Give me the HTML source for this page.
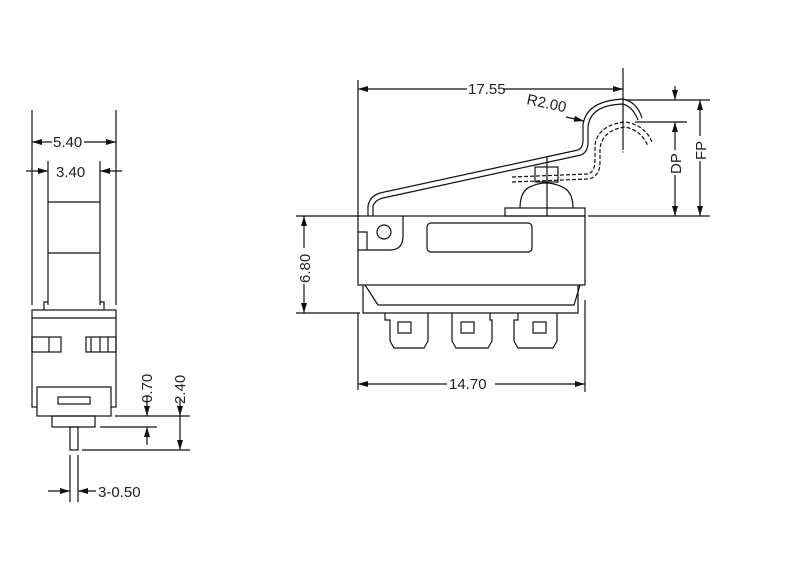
<!DOCTYPE html>
<html><head><meta charset="utf-8"><style>
html,body{margin:0;padding:0;background:#fff;}
svg{display:block;}
text{font-family:"Liberation Sans",sans-serif;font-size:15px;fill:#222;}
</style></head><body>
<svg width="800" height="575" viewBox="0 0 800 575" xmlns="http://www.w3.org/2000/svg">
<defs>
<marker id="a" viewBox="0 0 10 6" refX="10" refY="3" markerWidth="10" markerHeight="6" orient="auto-start-reverse" markerUnits="userSpaceOnUse"><path d="M0,0 L10,3 L0,6z" fill="#111"/></marker>
</defs>
<g stroke="#111" stroke-width="1.2" fill="none">
<line x1="32" y1="110" x2="32" y2="305"/>
<line x1="116" y1="110" x2="116" y2="305"/>
<line x1="48" y1="161" x2="48" y2="305"/>
<line x1="100" y1="161" x2="100" y2="305"/>
<line x1="48" y1="202" x2="100" y2="202"/>
<line x1="48" y1="253" x2="100" y2="253"/>
<path d="M48,302 H44 V310 M100,302 H104 V310"/>
<rect x="32" y="310" width="84" height="97"/>
<line x1="32" y1="318" x2="116" y2="318"/>
<rect x="32" y="337" width="29" height="15"/>
<line x1="49" y1="337" x2="49" y2="352"/>
<rect x="86" y="337" width="30" height="15"/>
<line x1="91" y1="337" x2="91" y2="352"/><line x1="100" y1="337" x2="100" y2="352"/><line x1="108" y1="337" x2="108" y2="352"/>
<rect x="37" y="387" width="74" height="29" fill="#fff"/>
<rect x="58" y="397" width="32" height="7"/>
<rect x="52" y="416" width="43" height="11"/>
<rect x="70" y="427" width="8" height="23"/>
<line x1="70" y1="455" x2="70" y2="502"/>
<line x1="78" y1="455" x2="78" y2="502"/>
<line x1="32" y1="142" x2="116" y2="142" marker-start="url(#a)" marker-end="url(#a)"/>
<line x1="26" y1="171" x2="48" y2="171" marker-end="url(#a)"/>
<line x1="122" y1="171" x2="100" y2="171" marker-end="url(#a)"/>
<line x1="48" y1="491" x2="70" y2="491" marker-end="url(#a)"/>
<line x1="96" y1="491" x2="78" y2="491" marker-end="url(#a)"/>
<line x1="115" y1="416" x2="190" y2="416"/>
<line x1="100" y1="427" x2="157" y2="427"/>
<line x1="82" y1="450" x2="190" y2="450"/>
<line x1="147" y1="396" x2="147" y2="416" marker-end="url(#a)"/>
<line x1="147" y1="445" x2="147" y2="427" marker-end="url(#a)"/>
<line x1="180" y1="398" x2="180" y2="416" marker-end="url(#a)"/>
<line x1="180" y1="416" x2="180" y2="450" marker-end="url(#a)"/>
<rect x="358" y="216" width="227" height="69"/>
<path d="M358,232 H367 V250"/>
<path d="M403,216 V236 Q403,250 390,250 H358"/>
<circle cx="384" cy="232" r="7"/>
<rect x="427" y="223" width="105" height="29" rx="4"/>
<path d="M363,285 V313 H578 V285"/>
<path d="M365,285 L378,305 H574 L580,285"/>
<rect x="505" y="208" width="80" height="8"/>
<path d="M520,208 Q520,190 532,186 Q546,180 560,186 Q573,190 573,208"/>
<rect x="535" y="167" width="23" height="15"/>
<line x1="547" y1="157" x2="547" y2="216"/>
<path d="M385,313 V320 H390 V341 L394,348 H424 L428,341 V320 V313"/>
<rect x="398" y="322" width="13" height="11"/>
<path d="M452,313 V341 L456,348 H488 L492,341 V320 H490 V313"/>
<rect x="461" y="322" width="13" height="11"/>
<path d="M518,313 V320 H514 V341 L518,348 H553 L557,341 V320 V313"/>
<rect x="533" y="322" width="13" height="11"/>
<path d="M368,216 V206 Q370,196 380,193 L578,150 Q583,148 583,140 L583,125 Q586,101 623,99 Q637,102 642,118"/>
<path d="M373,216 V206 Q375,200 383,198 L581,155 Q588,152 588,142 L588,127 Q590,105 623,104 Q633,107 638,120"/>
<path d="M512,177 L588,174 Q595,172 595,160 V145 Q598,125 625,122 Q645,125 652,142" stroke-dasharray="4,2"/>
<path d="M512,182 L588,179 Q600,177 600,162 V148 Q603,130 625,127 Q641,130 648,146" stroke-dasharray="4,2"/>
<line x1="358" y1="80" x2="358" y2="216"/>
<line x1="358" y1="390" x2="358" y2="313"/>
<line x1="585" y1="300" x2="585" y2="392"/>
<line x1="623" y1="68" x2="623" y2="150"/>
<line x1="358" y1="89" x2="623" y2="89" marker-start="url(#a)" marker-end="url(#a)"/>
<line x1="358" y1="384" x2="585" y2="384" marker-start="url(#a)" marker-end="url(#a)"/>
<line x1="296" y1="216" x2="358" y2="216"/>
<line x1="296" y1="313" x2="360" y2="313"/>
<line x1="304" y1="216" x2="304" y2="313" marker-start="url(#a)" marker-end="url(#a)"/>
<line x1="625" y1="100" x2="710" y2="100"/>
<line x1="635" y1="122" x2="687" y2="122"/>
<line x1="588" y1="216" x2="710" y2="216"/>
<line x1="675" y1="86" x2="675" y2="100" marker-end="url(#a)"/>
<line x1="675" y1="122" x2="675" y2="216" marker-start="url(#a)" marker-end="url(#a)"/>
<line x1="700" y1="100" x2="700" y2="216" marker-start="url(#a)" marker-end="url(#a)"/>
<line x1="566" y1="117" x2="584" y2="121" marker-end="url(#a)"/>
</g>
<circle cx="623" cy="152" r="1" fill="#8a8"/>
<g>
<rect x="52" y="134" width="32" height="14" fill="#fff"/><text x="53" y="147">5.40</text>
<text x="56" y="177">3.40</text>
<text x="98" y="497">3-0.50</text>
<text transform="translate(152,403) rotate(-90)">0.70</text>
<text transform="translate(185,404) rotate(-90)">2.40</text>
<rect x="467" y="82" width="36" height="14" fill="#fff"/><text x="468" y="94">17.55</text>
<rect x="447" y="377" width="48" height="14" fill="#fff"/><text x="449" y="389">14.70</text>
<rect x="297" y="248" width="14" height="36" fill="#fff"/><text transform="translate(310,283) rotate(-90)">6.80</text>
<text transform="translate(526,104) rotate(12)">R2.00</text>
<rect x="668" y="150" width="14" height="25" fill="#fff"/><text transform="translate(681,174) rotate(-90)">DP</text>
<rect x="693" y="136" width="14" height="25" fill="#fff"/><text transform="translate(706,160) rotate(-90)">FP</text>
</g>
</svg>
</body></html>
